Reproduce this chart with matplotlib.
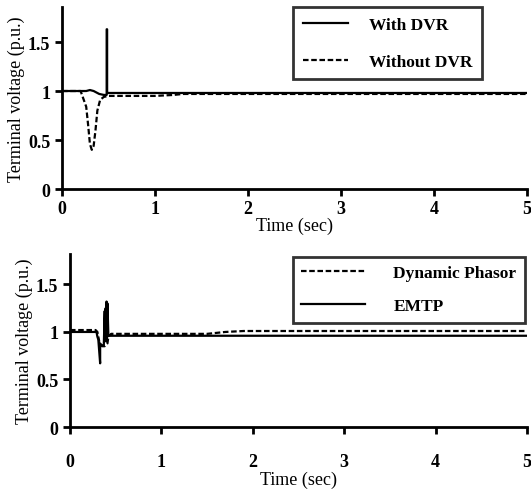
import numpy as np
import matplotlib.pyplot as plt

plt.rcParams['font.family'] = ['Liberation Serif', 'DejaVu Serif']

# top panel: terminal voltage with / without DVR
t_with = [0, 0.2, 0.26, 0.3, 0.34, 0.4, 0.45, 0.48, 0.48, 0.485, 0.485, 0.5, 1.0, 5.0]
v_with = [1.0, 1.0, 1.0, 1.01, 1.0, 0.97, 0.96, 0.96, 1.63, 1.63, 0.98, 0.98, 0.98, 0.98]
t_without = [0, 0.2, 0.23, 0.26, 0.28, 0.3, 0.32, 0.34, 0.36, 0.38, 0.41, 0.45, 0.5, 0.7, 1.0, 1.2, 1.3, 5.0]
v_without = [1.0, 1.0, 0.92, 0.84, 0.66, 0.46, 0.4, 0.44, 0.6, 0.8, 0.91, 0.94, 0.95, 0.95, 0.95, 0.96, 0.97, 0.97]

# bottom panel: dynamic phasor vs EMTP
t_phasor = [0, 0.28, 0.3, 0.32, 0.35, 0.38, 0.41, 0.42, 0.45, 0.6, 1.0, 1.5, 1.7, 1.9, 5.0]
v_phasor = [1.02, 1.02, 1.0, 0.9, 0.85, 0.85, 0.88, 0.95, 0.98, 0.98, 0.98, 0.98, 1.0, 1.01, 1.01]
t_emtp = [0, 0.29, 0.3, 0.31, 0.33, 0.33, 0.34, 0.37, 0.38, 0.38, 0.39, 0.4, 0.4, 0.41, 0.41, 0.42, 0.43, 1.0, 5.0]
v_emtp = [1.0, 1.0, 0.95, 0.92, 0.67, 0.88, 0.86, 0.86, 1.22, 0.9, 1.25, 0.9, 1.32, 0.95, 1.3, 0.96, 0.96, 0.96, 0.96]

xticks = [0, 1, 2, 3, 4, 5]
yticks = [0, 0.5, 1, 1.5]
yticklabels = ['0', '0.5', '1', '1.5']

fig = plt.figure(figsize=(5.31, 5.02), dpi=100)
ax1 = fig.add_axes([0.1168, 0.6215, 0.8757, 0.3625])
ax2 = fig.add_axes([0.1318, 0.1474, 0.8606, 0.3446])

dash = (0, (2.5, 1.2))

ax1.plot(t_with, v_with, color='black', lw=1.6, label='With DVR')
ax1.plot(t_without, v_without, color='black', lw=1.6, ls=dash, label='Without DVR')
ax1.set_ylim(0, 1.857)

ax2.plot(t_phasor, v_phasor, color='black', lw=1.6, ls=dash, label='Dynamic Phasor')
ax2.plot(t_emtp, v_emtp, color='black', lw=1.6, label='EMTP')
ax2.set_ylim(0, 1.82)

for ax, pad in [(ax1, 3), (ax2, 14)]:
    ax.set_xlim(0, 5)
    ax.set_xticks(xticks)
    ax.set_yticks(yticks)
    ax.set_yticklabels(yticklabels)
    for s in ['top', 'right']:
        ax.spines[s].set_visible(False)
    for s in ['left', 'bottom']:
        ax.spines[s].set_linewidth(2)
    ax.tick_params(axis='both', width=2, length=5, labelsize=13, direction='out')
    ax.tick_params(axis='x', pad=pad)
    for lab in ax.get_xticklabels() + ax.get_yticklabels():
        lab.set_fontweight('bold')
    ax.set_xlabel('Time (sec)', fontsize=13, labelpad=0)
    ax.set_ylabel('Terminal voltage (p.u.)', fontsize=13, labelpad=2)

leg1 = ax1.legend(loc='upper left', bbox_to_anchor=(0.497, 1.0), borderaxespad=0,
                  frameon=True, fancybox=False, edgecolor='black', handlelength=2.6,
                  handletextpad=1.2, labelspacing=1.2, borderpad=0.55,
                  prop={'weight': 'bold', 'size': 12.5})
leg1.get_frame().set_linewidth(2)
leg2 = ax2.legend(loc='upper left', bbox_to_anchor=(0.487, 0.985), borderaxespad=0,
                  frameon=True, fancybox=False, edgecolor='black', handlelength=3.7,
                  handletextpad=1.6, labelspacing=0.95, borderpad=0.5,
                  prop={'weight': 'bold', 'size': 12.5})
leg2.get_frame().set_linewidth(2)

fig.savefig('out.png', dpi=100)
